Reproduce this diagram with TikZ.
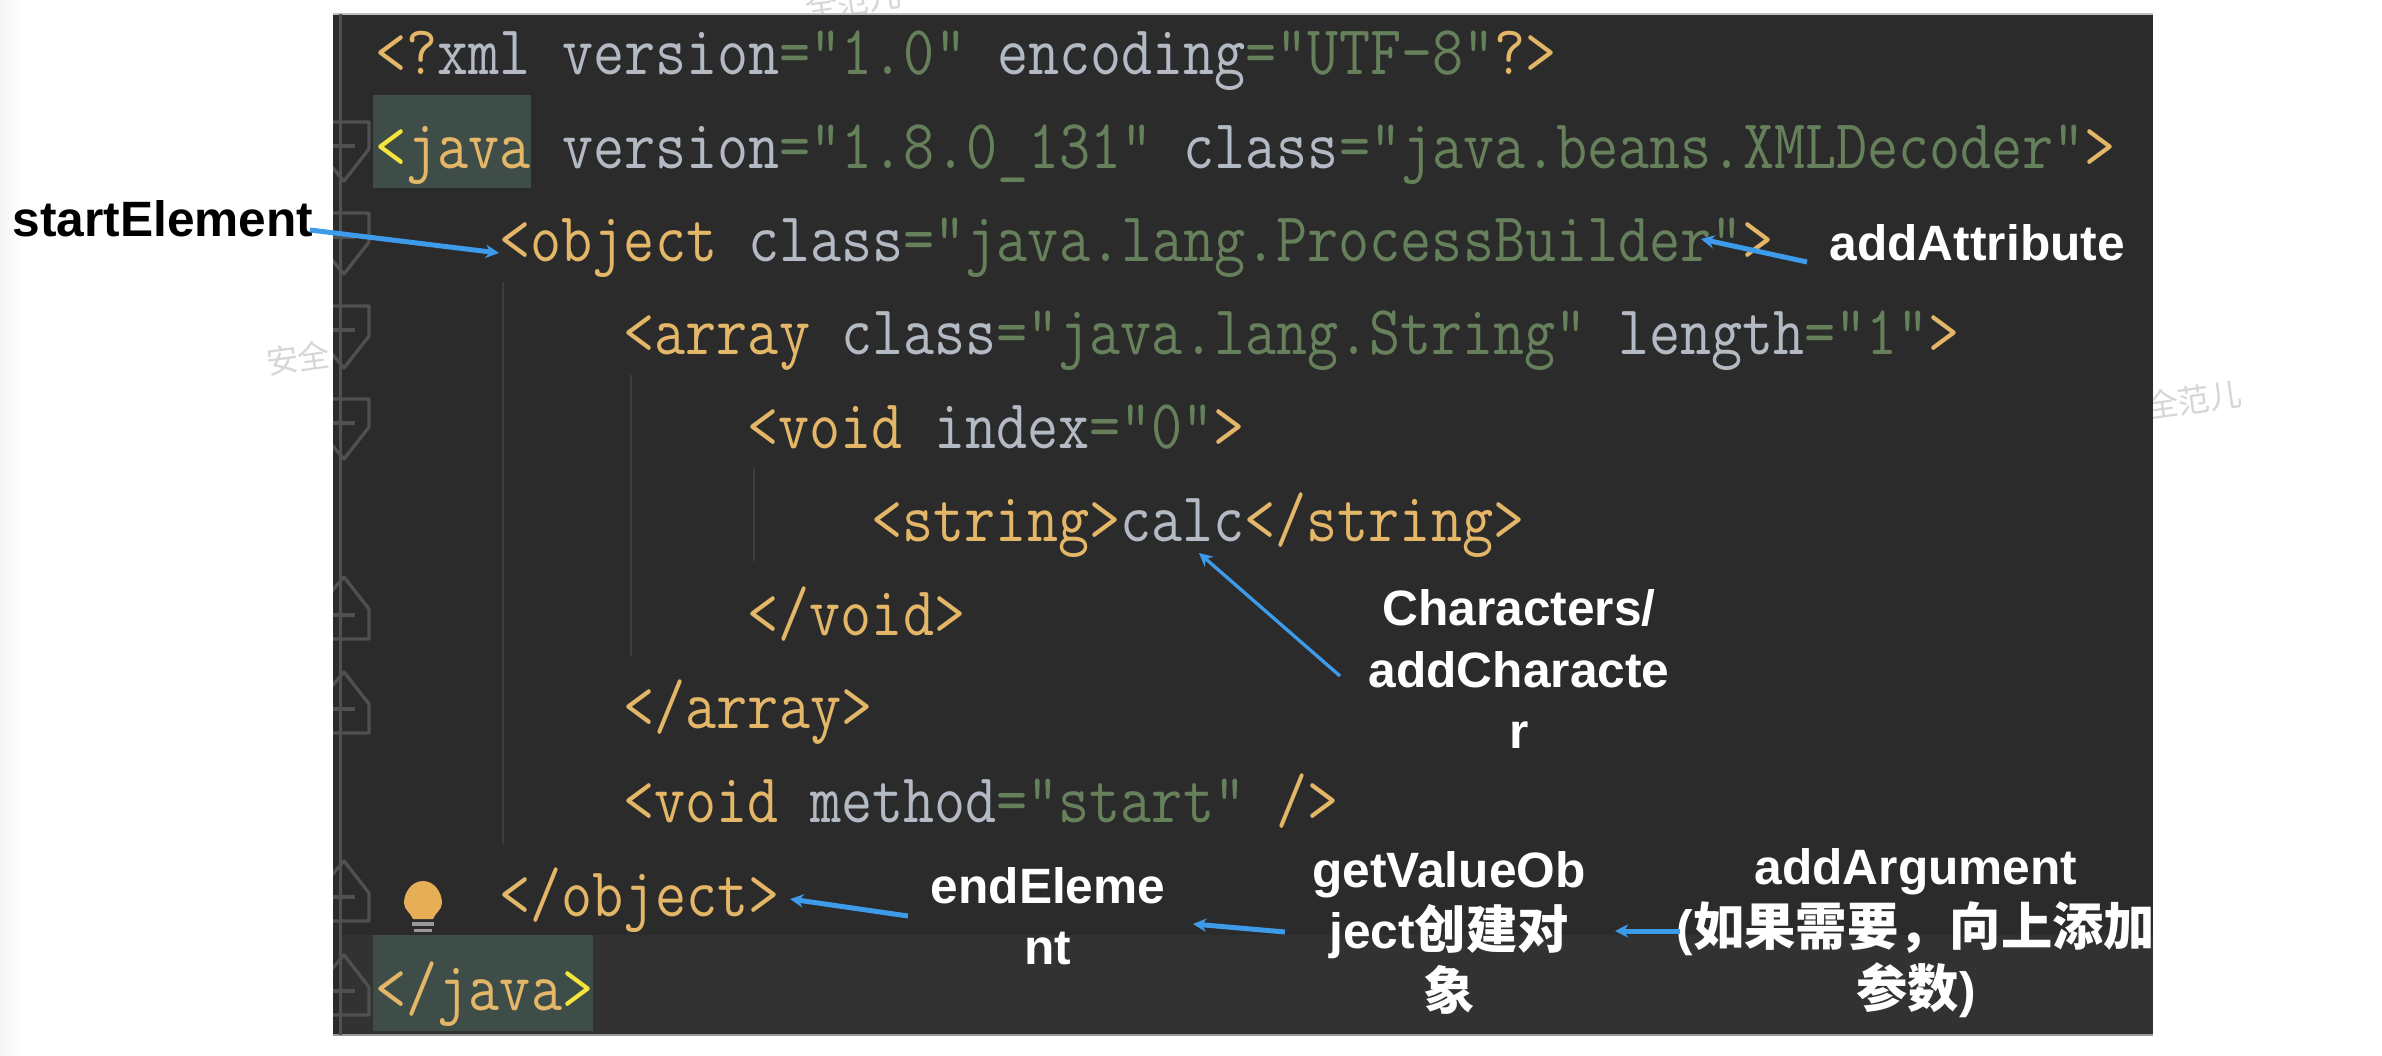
\documentclass[tikz,border=0pt]{standalone}
\usepackage{fontspec}
\usetikzlibrary{arrows.meta}
\setmainfont{Liberation Sans}[BoldFont={Liberation Sans Bold}]
\newfontfamily\cjkb{Noto Sans CJK SC Bold}
\newfontfamily\cjkw{Noto Sans CJK SC}
\newfontfamily\codefont{Latin Modern Mono}[FakeStretch=0.86]
\definecolor{panel}{HTML}{2B2B2B}
\definecolor{lastline}{HTML}{323232}
\definecolor{hilite}{HTML}{3F4D48}
\definecolor{ctg}{HTML}{E3B668}
\definecolor{cat}{HTML}{B4BAC4}
\definecolor{cvl}{HTML}{65805A}
\definecolor{cyl}{HTML}{F5E53C}
\definecolor{gut}{HTML}{505050}
\definecolor{guide}{HTML}{3D3D3D}
\definecolor{arrowblue}{HTML}{3D9BE9}
\definecolor{wm}{HTML}{D6D6D6}
\newcommand{\ctg}[1]{\textcolor{ctg}{#1}}
\newcommand{\cat}[1]{\textcolor{cat}{#1}}
\newcommand{\cvl}[1]{\textcolor{cvl}{#1}}
\newcommand{\cyl}[1]{\textcolor{cyl}{#1}}
\newcommand{\zh}[1]{{\cjkb\fontsize{15.4pt}{18.4pt}\selectfont #1}}
\tikzset{
  x=0.3pt,y=-0.3pt,
  code/.style={anchor=base west,inner sep=0pt,font=\codefont\fontsize{21.05pt}{24pt}\selectfont},
  lbl/.style={inner sep=0pt,align=center,font=\bfseries\fontsize{14.9pt}{18.4pt}\selectfont},
  lblw/.style={lbl,text=white},
  conn/.style={draw=arrowblue,line width=#1,-{Stealth[length=4pt,width=4pt]}},
  fold/.style={draw=gut,line width=1pt,line join=round},
  guideline/.style={draw=guide,line width=0.45pt},
  wmark/.style={inner sep=0pt,text=wm,font=\cjkw\fontsize{9.6pt}{10pt}\selectfont,rotate=8}
}
\begin{document}
\begin{tikzpicture}
\useasboundingbox (0,0) rectangle (2382,1056);
\begin{scope}
\clip (0,0) rectangle (2382,1056);
\fill[white] (0,0) rectangle (2382,1056);
\shade[left color=black!4,right color=white] (0,0) rectangle (22,1056);
% watermarks
\node[wmark] (wa) at (298,358) {安全};
\node[wmark] (wb) at (2194,400) {全范儿};
\node[wmark] (wc) at (853,1) {全范儿};
% panel
\fill[panel] (333,14) rectangle (2153,1035);
\draw[black!25,line width=0.5pt] (333,14) -- (2153,14);
\draw[black!40,line width=0.5pt] (333,1035) -- (2153,1035);
\fill[lastline] (340,935) rectangle (2153,1034);
\fill[hilite] (373,95) rectangle (531,188);
\fill[hilite] (373,935) rectangle (593,1031);
% gutter
\begin{scope}
\clip (333,14) rectangle (400,1035);
\draw[gut,line width=0.9pt] (340,14) -- (340,1035);
\foreach \t/\b in {122/181,213/274,306/368,399/459}{
  \draw[fold] (325,\t) -- (369,\t) -- (369,\b-32) -- (344,\b) -- (325,\b-22);
  \draw[fold] (325,\t+24) -- (355,\t+24);
}
\foreach \t/\b in {577/639,672/733,861/921,955/1015}{
  \draw[fold] (325,\b) -- (369,\b) -- (369,\t+32) -- (344,\t) -- (325,\t+22);
  \draw[fold] (325,\b-24) -- (355,\b-24);
}
\end{scope}
% indent guides
\draw[guideline] (503,282) -- (503,844);
\draw[guideline] (631,375) -- (631,656);
\draw[guideline] (754,468) -- (754,561);
% bulb
\fill[ctg!85!orange] (423,881) .. controls (434,881) and (442,892) .. (442,903) .. controls (442,910) and (435,913) .. (433,919) -- (413,919) .. controls (411,913) and (404,910) .. (404,903) .. controls (404,892) and (412,881) .. (423,881) -- cycle;
\fill[black!40] (412,922) rectangle (434,926);
\fill[black!40] (414,929) rectangle (432,932);
% code
\node[code] (c1) at (375,74.5) {\ctg{<?}\cat{xml version}\cvl{="1.0"} \cat{encoding}\cvl{="UTF-8"}\ctg{?>}};
\node[code] (c2) at (375,168) {\cyl{<}\ctg{java} \cat{version}\cvl{="1.8.0\_131"} \cat{class}\cvl{="java.beans.XMLDecoder"}\ctg{>}};
\node[code] (c3) at (499,261) {\ctg{<object} \cat{class}\cvl{="java.lang.ProcessBuilder"}\ctg{>}};
\node[code] (c4) at (623,354.5) {\ctg{<array} \cat{class}\cvl{="java.lang.String"} \cat{length}\cvl{="1"}\ctg{>}};
\node[code] (c5) at (747,448) {\ctg{<void} \cat{index}\cvl{="0"}\ctg{>}};
\node[code] (c6) at (871,541.5) {\ctg{<string>}\cat{calc}\ctg{</string>}};
\node[code] (c7) at (747,635) {\ctg{</void>}};
\node[code] (c8) at (623,728.5) {\ctg{</array>}};
\node[code] (c9) at (623,822) {\ctg{<void} \cat{method}\cvl{="start"} \ctg{/>}};
\node[code] (c10) at (499,916) {\ctg{</object>}};
\node[code] (c11) at (375,1010) {\ctg{</java}\cyl{>}};
% labels
\node[lbl,anchor=base west] (lstart) at (12,236) {startElement};
\node[lblw,anchor=base west] (lattr) at (1829,260) {addAttribute};
\node[lblw] (lchar) at (1519,669) {Characters/\\addCharacte\\r};
\node[lblw] (lend) at (1048,916) {endEleme\\nt};
\node[lblw] (lvalue) at (1449,933) {getValueOb\\ject\zh{创建对}\\\zh{象}};
\node[lblw] (larg) at (1916,933) {addArgument\\(\zh{如果需要，向上添加}\\\zh{参数})};
% connector ends
\coordinate (s1) at (310,230); \coordinate (t1) at (499,253);
\coordinate (s2) at (1807,262); \coordinate (t2) at (1701,239);
\coordinate (s3) at (1340,676); \coordinate (t3) at (1199,553);
\coordinate (s4) at (908,916); \coordinate (t4) at (790,899);
\coordinate (s5) at (1285,932); \coordinate (t5) at (1193,924);
\coordinate (s6) at (1680,931); \coordinate (t6) at (1615,931);
\draw[conn=1.5pt] (s1) -- (t1);
\draw[conn=1.5pt] (s2) -- (t2);
\draw[conn=1pt] (s3) -- (t3);
\draw[conn=1.5pt] (s4) -- (t4);
\draw[conn=1.5pt] (s5) -- (t5);
\draw[conn=1.5pt] (s6) -- (t6);
\end{scope}
\end{tikzpicture}
\end{document}
